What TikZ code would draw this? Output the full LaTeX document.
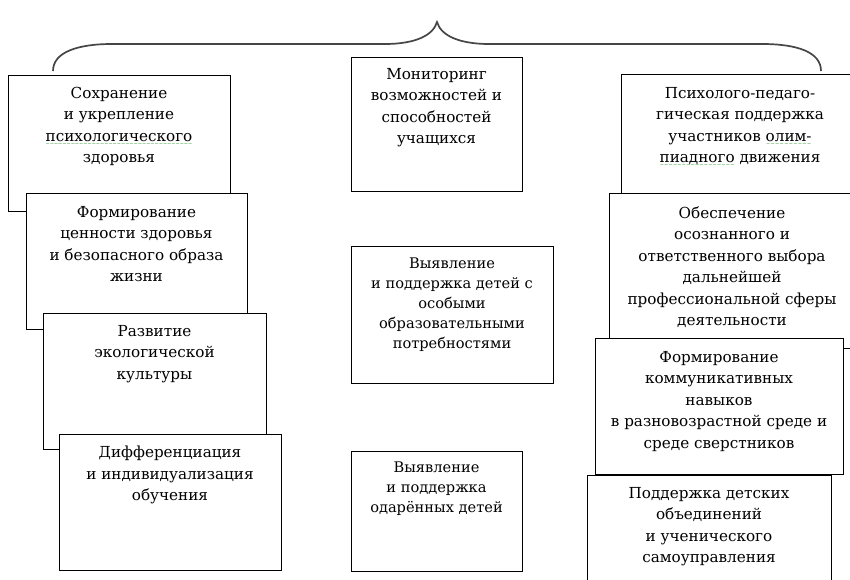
\documentclass[tikz,border=0pt]{standalone}
\usepackage{fontspec}
\setmainfont{DejaVu Serif}
\newfontfamily\dvs{DejaVu Sans}
\definecolor{spellgreen}{RGB}{40,150,40}
\definecolor{bracegray}{RGB}{70,70,70}
\newsavebox\gwbox
\newcommand\gw[1]{\sbox\gwbox{#1}\rlap{\raisebox{-4pt}{\color{spellgreen}\hbox to \wd\gwbox{\fontsize{5}{5}\dvs\xleaders\hbox{∼}\hfill}}}\usebox\gwbox}
\begin{document}
\begin{tikzpicture}[x=1pt,y=-1pt,
  box/.style={draw=black, line width=1.1pt, fill=white, rectangle, inner sep=0pt, anchor=north west},
  txt/.style={align=center, inner sep=0pt, anchor=north, font=\fontsize{15.2}{21.5}\selectfont},
  txtb/.style={txt, font=\fontsize{14.6}{20}\selectfont},
  brace/.style={draw=bracegray, line width=1.7pt}]
\useasboundingbox (0,0) rectangle (850,580);
\fill[white] (0,0) rectangle (850,580);
\clip (0,0) rectangle (850,580);
% brace
\coordinate (bl) at (53,71);
\coordinate (bt) at (437,22);
\coordinate (br) at (821,71);
\draw[brace] (bl) .. controls (53,52) and (78,44) .. (112,44) -- (385,44)
  .. controls (414,44) and (433,36) .. (bt)
  .. controls (441,36) and (460,44) .. (489,44) -- (762,44)
  .. controls (797,44) and (821,52) .. (br);
% left column
\node[box, minimum width=222pt, minimum height=136pt] (b1) at (8,75) {};
\node[txt] (t1) at (119,87) {Сохранение\\и укрепление\\\gw{психологического}\\здоровья};
\node[box, minimum width=221pt, minimum height=136pt] (b2) at (26,193) {};
\node[txt] (t2) at (136.5,206) {Формирование\\ценности здоровья\\и безопасного образа\\жизни};
\node[box, minimum width=223pt, minimum height=136pt] (b3) at (43,313) {};
\node[txt] (t3) at (154.5,325) {Развитие\\экологической\\культуры};
\node[box, minimum width=222pt, minimum height=136pt] (b4) at (59,434) {};
\node[txt] (t4) at (170,446) {Дифференциация\\и индивидуализация\\обучения};
% middle column
\node[box, minimum width=171pt, minimum height=134pt] (m) at (351,57) {};
\node[txt] (tm) at (436.5,68) {Мониторинг\\возможностей и\\способностей\\учащихся};
\node[box, minimum width=202pt, minimum height=137pt] (v1) at (351,246) {};
\node[txtb] (tv1) at (452,258) {Выявление\\и поддержка детей с\\особыми\\образовательными\\потребностями};
\node[box, minimum width=171pt, minimum height=120pt] (v2) at (351,451) {};
\node[txtb] (tv2) at (436.5,462) {Выявление\\и поддержка\\одарённых детей};
% right column
\node[box, minimum width=239pt, minimum height=126pt] (r1) at (621,74) {};
\node[txt] (tr1) at (740,87) {Психолого-педаго-\\гическая поддержка\\участников \gw{олим-}\\\gw{пиадного} движения};
\node[box, minimum width=251pt, minimum height=155pt] (r2) at (609,193) {};
\node[txt] (tr2) at (732,206) {Обеспечение\\осознанного и\\ответственного выбора\\дальнейшей\\профессиональной сферы\\деятельности};
\node[box, minimum width=248pt, minimum height=136pt] (r3) at (595,338) {};
\node[txt] (tr3) at (719,351) {Формирование\\коммуникативных\\навыков\\в разновозрастной среде и\\среде сверстников};
\node[box, minimum width=244pt, minimum height=125pt] (r4) at (587,475) {};
\node[txt] (tr4) at (709,487) {Поддержка детских\\объединений\\и ученического\\самоуправления};
\end{tikzpicture}
\end{document}
